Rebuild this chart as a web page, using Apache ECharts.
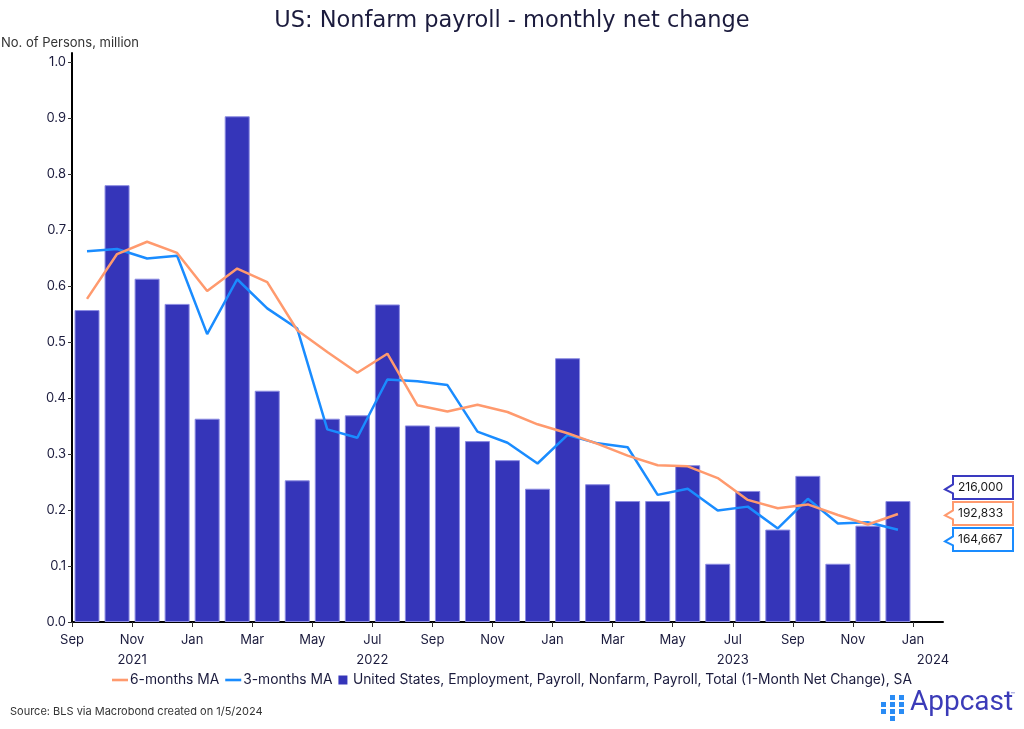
<!DOCTYPE html>
<html>
<head>
<meta charset="utf-8">
<script src="https://cdn.jsdelivr.net/npm/echarts@6/dist/echarts.min.js"></script>
<style>
html,body{margin:0;padding:0;background:#fff;}
#c{width:1024px;height:729px;}
</style>
</head>
<body>
<div id="c"></div>
<script>
// ---- data ----
const months = ['2021-09','2021-10','2021-11','2021-12','2022-01','2022-02','2022-03','2022-04','2022-05','2022-06','2022-07','2022-08','2022-09','2022-10','2022-11','2022-12','2023-01','2023-02','2023-03','2023-04','2023-05','2023-06','2023-07','2023-08','2023-09','2023-10','2023-11','2023-12'];
const netChange = [0.557,0.780,0.613,0.568,0.363,0.903,0.413,0.253,0.363,0.369,0.567,0.351,0.349,0.323,0.289,0.238,0.471,0.246,0.216,0.216,0.280,0.104,0.234,0.165,0.261,0.104,0.172,0.216];
const ma6 = [0.577,0.657,0.679,0.659,0.591,0.631,0.607,0.521,0.482,0.445,0.479,0.387,0.376,0.388,0.375,0.353,0.337,0.318,0.297,0.280,0.278,0.257,0.218,0.203,0.210,0.191,0.174,0.192833];
const ma3 = [0.662,0.666,0.649,0.654,0.514,0.612,0.560,0.524,0.344,0.329,0.433,0.430,0.423,0.340,0.320,0.283,0.334,0.319,0.312,0.227,0.238,0.199,0.206,0.167,0.220,0.176,0.178,0.164667];
const xTickIndex = [0,2,4,6,8,10,12,14,16,18,20,22,24,26,28];
const xTickLabels = ['Sep','Nov\n2021','Jan','Mar','May','Jul\n2022','Sep','Nov','Jan','Mar','May','Jul\n2023','Sep','Nov','Jan\n{y|2024}'];
const yTicks = [0,0.1,0.2,0.3,0.4,0.5,0.6,0.7,0.8,0.9,1.0];
const seriesNames = ['6-months MA','3-months MA','United States, Employment, Payroll, Nonfarm, Payroll, Total (1-Month Net Change), SA'];

const FONT = 'Inter, "Noto Sans", sans-serif';
const DARK = '#1b1b3d';
const C_BAR = '#3535b9', C_ORANGE = '#ff9a6e', C_BLUE = '#1a8cff';

const toPts = arr => arr.map((v,i)=>[i+0.5, v]);
const LINE_ICON = 'path://M0,0L16,0L16,2.6L0,2.6Z';

const chart = echarts.init(document.getElementById('c'));
const option = {
  animation:false,
  backgroundColor:'#fff',
  textStyle:{fontFamily:FONT},
  title:{text:'US: Nonfarm payroll - monthly net change',left:'center',top:5,
    textStyle:{fontFamily:'"DejaVu Sans", sans-serif',fontSize:22.5,fontWeight:'normal',color:DARK}},
  grid:{left:72,right:81,top:53,bottom:107},
  legend:{bottom:37,left:'center',itemGap:6,itemWidth:16,itemHeight:9,
    textStyle:{fontFamily:FONT,fontSize:13.8,color:DARK,padding:[0,0,0,-3]},
    data:[{name:seriesNames[0],icon:LINE_ICON},{name:seriesNames[1],icon:LINE_ICON},
      {name:seriesNames[2],icon:'path://M0,0L10,0L10,10L0,10Z',itemStyle:{borderWidth:0}}]},
  xAxis:{type:'value',min:0,max:29,
    splitLine:{show:false},
    axisLine:{show:true,onZero:false,lineStyle:{color:'#000',width:2}},
    axisTick:{show:true,length:5,customValues:xTickIndex,lineStyle:{color:'#333'}},
    axisLabel:{customValues:xTickIndex,margin:8,fontFamily:FONT,fontSize:13,color:DARK,lineHeight:20,
      formatter:v=>{const k=xTickIndex.indexOf(Math.round(v));return k>=0?xTickLabels[k]:'';},
      rich:{y:{fontFamily:FONT,fontSize:13,color:DARK,padding:[0,0,0,40]}}}},
  yAxis:{type:'value',min:0,max:1.016,
    splitLine:{show:false},
    axisLine:{show:true,lineStyle:{color:'#000',width:2}},
    axisTick:{show:true,length:4,customValues:yTicks,lineStyle:{color:'#333'}},
    axisLabel:{customValues:yTicks,margin:6,fontFamily:FONT,fontSize:13,color:DARK,formatter:v=>v.toFixed(1)}},
  series:[
    {name:seriesNames[2],type:'bar',data:toPts(netChange),barWidth:25,z:1,
      itemStyle:{color:C_BAR,borderColor:'#8c8ce2',borderWidth:1}},
    {name:seriesNames[1],type:'line',data:toPts(ma3),symbol:'none',z:3,
      lineStyle:{color:C_BLUE,width:2.5},itemStyle:{color:C_BLUE}},
    {name:seriesNames[0],type:'line',data:toPts(ma6),symbol:'none',z:4,
      lineStyle:{color:C_ORANGE,width:2.5},itemStyle:{color:C_ORANGE}}
  ]
};
chart.setOption(option);

// ---- end value callouts ----
const last = [
  {v:netChange[netChange.length-1], c:'#3a3ac0'},
  {v:ma6[ma6.length-1], c:C_ORANGE},
  {v:ma3[ma3.length-1], c:C_BLUE}
];
last.forEach(o=>{o.y = chart.convertToPixel({gridIndex:0},[28.5,o.v])[1];});
last.sort((a,b)=>a.y-b.y);
const mean0 = last.reduce((s,o)=>s+o.y,0)/last.length;
const pos = last.map(o=>o.y);
for(let i=1;i<pos.length;i++){ if(pos[i]<pos[i-1]+26) pos[i]=pos[i-1]+26; }
const mean1 = pos.reduce((s,y)=>s+y,0)/pos.length;
const shift = mean0-mean1-1.5;
const tipX=945, bl=953, br=1013, h=23;
const els = [];
last.forEach((o,i)=>{
  const cy = pos[i]+shift;
  const top = cy-h/2, bot = cy+h/2;
  els.push({type:'polygon',z:10,shape:{points:[[tipX,cy+2],[bl,cy-3],[bl,top],[br,top],[br,bot],[bl,bot],[bl,cy+6]]},
    style:{fill:'#fff',stroke:o.c,lineWidth:2}});
  els.push({type:'text',z:11,x:bl+5,y:cy,style:{text:Math.round(o.v*1e6).toLocaleString('en-US'),
    font:'12px '+FONT,fill:'#1a1a1a',textVerticalAlign:'middle'}});
});

// y-axis title, source, logo
els.push({type:'text',x:1,y:37,style:{text:'No. of Persons, million',font:'13px '+FONT,fill:'#333'}});
els.push({type:'text',x:10,y:706,style:{text:'Source: BLS via Macrobond created on 1/5/2024',font:'11px '+FONT,fill:'#333'}});
const sq = [[890,695],[899,695],[881,702],[890,702],[899,702],[881,709],[890,709],[899,709],[890,716]];
sq.forEach(p=>els.push({type:'rect',shape:{x:p[0],y:p[1],width:5,height:5},style:{fill:'#2a8cf5'}}));
els.push({type:'text',x:910,y:689,style:{text:'Appcast',font:'28px "Liberation Sans Narrow", "Roboto", sans-serif',fill:'#3b3bb8'}});
els.push({type:'text',x:1011,y:692,style:{text:'™',font:'6px '+FONT,fill:'#3b3bb8'}});
chart.setOption({graphic:{elements:els}});
</script>
</body>
</html>
